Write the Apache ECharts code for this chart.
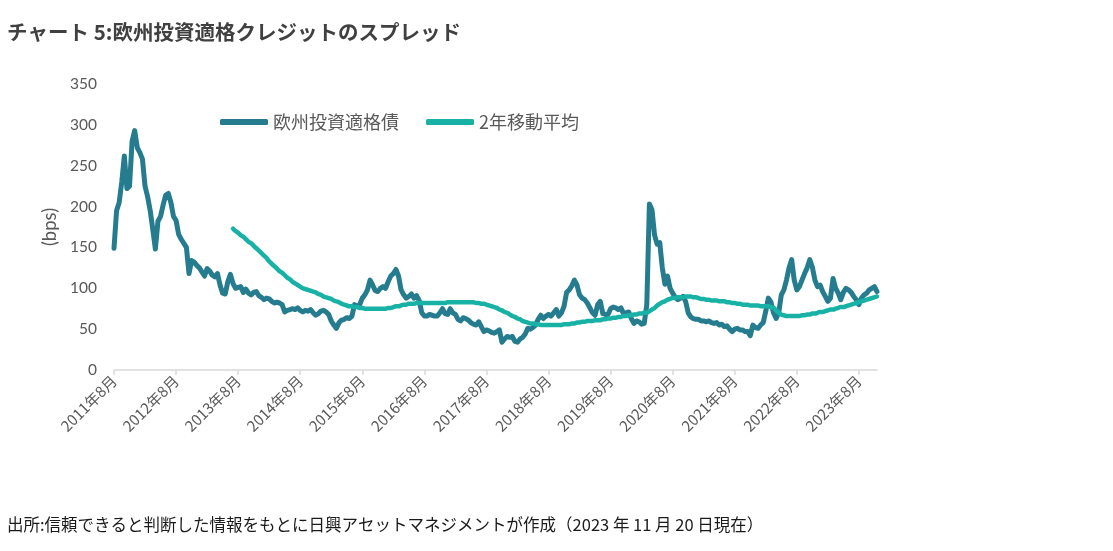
<!DOCTYPE html>
<html>
<head>
<meta charset="utf-8">
<script src="https://cdn.jsdelivr.net/npm/echarts@6/dist/echarts.min.js"></script>
<style>
html,body{margin:0;padding:0;background:#fff;}
#chart{width:1113px;height:551px;}
</style>
</head>
<body>
<div id="chart"></div>
<script>
// Semi-monthly observations from 2011-08 to 2023-11 (two per month)
const startYear = 2011, startMonth = 8, monthCount = 148;
const categories = [];
for (let m = 0; m < monthCount; m++) {
  const y = startYear + Math.floor((startMonth - 1 + m) / 12);
  const mo = ((startMonth - 1 + m) % 12) + 1;
  categories.push(y + '-' + mo + '-01');
  categories.push(y + '-' + mo + '-16');
}

const seriesNames = ['欧州投資適格債', '2年移動平均'];

// 欧州投資適格債 (bps)
const euroIG = [
149,195,205,230,262,222,225,280,293,272,
266,258,225,212,195,172,148,182,188,202,
214,216,205,188,183,166,160,155,150,118,
134,132,128,125,120,115,124,121,116,114,
118,104,94,93,108,117,106,100,101,102,
95,99,94,92,95,96,91,89,86,88,
87,84,82,83,82,80,71,73,74,75,
74,76,73,71,73,72,74,70,67,69,
72,73,71,68,60,55,51,58,61,62,
64,63,66,80,78,80,88,92,98,110,
104,97,96,100,102,100,108,115,118,123,
115,98,92,88,90,93,88,91,85,70,
66,66,68,67,66,66,70,75,69,68,
75,70,68,62,60,64,63,61,58,56,
55,59,53,47,49,48,46,45,47,49,
34,38,41,40,41,35,34,38,40,44,
51,50,52,55,62,67,63,66,68,66,
70,74,66,70,78,95,98,103,110,104,
92,88,86,82,76,70,67,80,84,69,
68,68,75,77,76,74,76,69,70,71,
63,57,60,59,56,57,80,203,196,165,
154,156,125,105,115,100,94,89,86,88,
90,84,70,65,63,62,62,60,60,59,
60,58,57,58,55,56,53,54,50,47,
50,51,49,49,47,47,42,55,52,51,
55,58,72,88,83,70,63,70,92,98,
110,125,135,110,98,102,110,118,125,135,
126,110,102,104,96,90,84,88,112,100,
94,86,95,100,98,95,90,86,80,88,
92,94,98,100,102,96
];

// 2年移動平均 (bps), starts at category index 46
const maStartIndex = 46;
const movingAvg = [
173,170,168,165,163,160,157,155,152,149,
146,143,140,137,133,130,127,124,121,119,
116,113,111,108,106,104,102,100,99,98,
97,96,95,93,92,90,89,88,87,85,
84,83,81,80,79,78,78,77,77,76,
76,75,75,75,75,75,75,75,75,75,
76,76,77,78,78,79,80,80,81,81,
81,82,82,82,82,82,82,82,82,82,
82,82,82,83,83,83,83,83,83,83,
83,83,83,83,82,82,81,81,80,79,
78,77,76,74,73,71,70,68,66,65,
63,62,60,59,58,57,57,56,56,55,
55,55,55,55,55,55,55,55,56,56,
56,57,57,58,58,59,59,60,60,60,
61,61,61,62,62,63,63,64,64,65,
65,66,66,67,67,68,68,69,69,70,
70,72,74,76,79,81,83,84,86,87,
88,88,89,89,89,90,90,90,89,89,
88,87,87,86,86,85,85,85,84,84,
84,83,83,82,82,81,81,80,80,80,
79,79,79,79,78,78,78,78,77,76,
73,70,68,67,66,66,66,66,66,66,
67,67,68,68,69,69,70,71,71,72,
73,74,74,75,76,77,77,78,79,80,
81,82,83,84,85,86,87,88,89,90,
91
];

const yTicks = { min: 0, max: 350, interval: 50 };

const maData = movingAvg.map((v, k) => [categories[maStartIndex + k], v]);

const isAugStart = (idx) => idx % 24 === 0;
function fmtCat(val) {
  const p = val.split('-');
  return p[0] + '年' + p[1] + '月';
}

const chart = echarts.init(document.getElementById('chart'));
chart.setOption({
  animation: false,
  backgroundColor: '#ffffff',
  title: [
    {
      text: 'チャート 5:欧州投資適格クレジットのスプレッド',
      left: 7, top: 22, padding: 0,
      textStyle: { fontFamily: 'Noto Sans CJK JP', fontSize: 20.5, fontWeight: 'bold', color: '#404040' }
    },
    {
      text: '出所:信頼できると判断した情報をもとに日興アセットマネジメントが作成（2023 年 11 月 20 日現在）',
      left: 7, top: 516, padding: 0,
      textStyle: { fontFamily: 'Noto Sans CJK JP', fontSize: 16.5, fontWeight: 'normal', color: '#1a1a1a' }
    }
  ],
  legend: {
    data: seriesNames,
    left: 215, top: 108,
    itemWidth: 48, itemHeight: 6, itemGap: 27,
    icon: 'roundRect',
    textStyle: { fontFamily: 'Noto Sans CJK JP', fontSize: 18, color: '#595959' }
  },
  grid: { left: 114, right: 236, top: 84, bottom: 181, containLabel: false },
  xAxis: {
    type: 'category',
    data: categories,
    boundaryGap: false,
    axisLine: { lineStyle: { color: '#d9d9d9', width: 1.5 } },
    axisTick: { show: true, interval: isAugStart, length: 5, lineStyle: { color: '#d9d9d9', width: 1.5 } },
    axisLabel: {
      interval: isAugStart, rotate: 45, margin: 8,
      formatter: fmtCat,
      fontFamily: 'Noto Sans CJK JP', fontSize: 15, color: '#595959'
    },
    splitLine: { show: false }
  },
  yAxis: {
    type: 'value',
    min: yTicks.min, max: yTicks.max, interval: yTicks.interval,
    name: '(bps)', nameLocation: 'middle', nameGap: 54, nameRotate: 90,
    nameTextStyle: { fontFamily: 'Lato', fontSize: 18.5, color: '#595959' },
    axisLine: { show: false }, axisTick: { show: false },
    splitLine: { show: false },
    axisLabel: { margin: 17, fontFamily: 'Lato', fontSize: 15.5, color: '#595959' }
  },
  series: [
    {
      name: seriesNames[0], type: 'line', data: euroIG,
      showSymbol: false, symbol: 'none',
      lineStyle: { color: '#267c8f', width: 5, join: 'round', cap: 'round' },
      itemStyle: { color: '#267c8f' }, z: 3
    },
    {
      name: seriesNames[1], type: 'line', data: maData,
      showSymbol: false, symbol: 'none', smooth: true,
      lineStyle: { color: '#17b2a5', width: 4.5, cap: 'round' },
      itemStyle: { color: '#17b2a5' }, z: 4
    }
  ]
});
</script>
</body>
</html>
